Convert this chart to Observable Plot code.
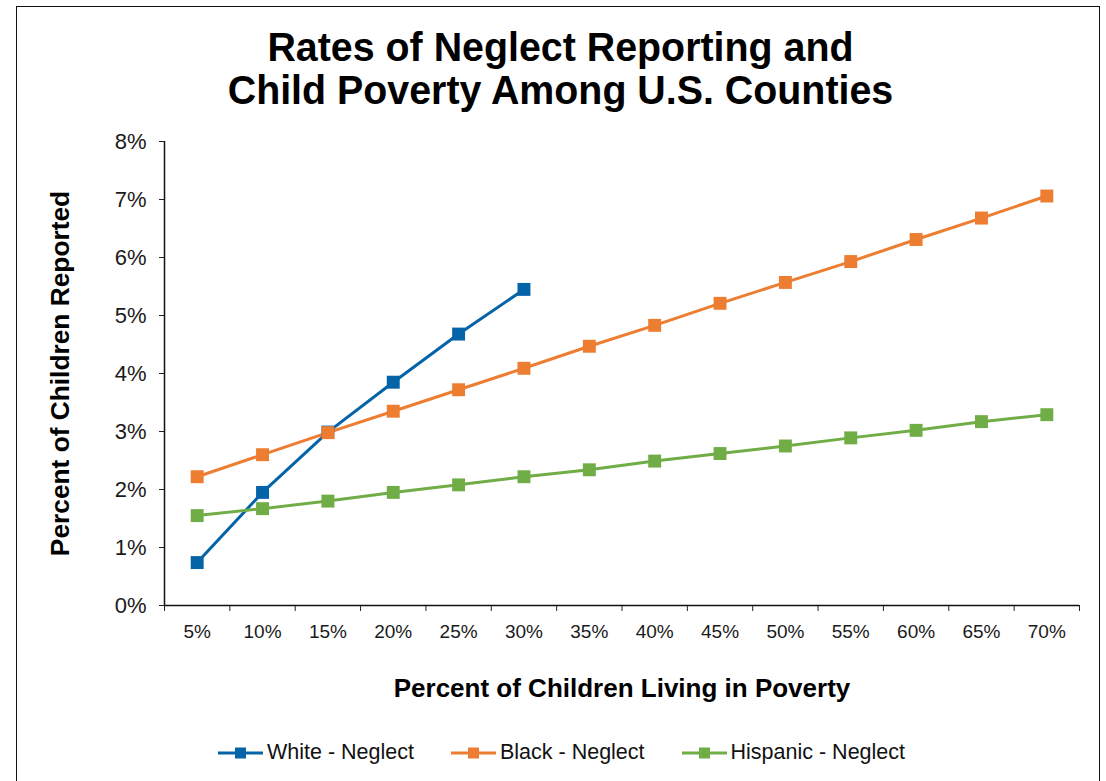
<!DOCTYPE html>
<html>
<head>
<meta charset="utf-8">
<script src="https://cdn.jsdelivr.net/npm/d3@7"></script>
<script src="https://cdn.jsdelivr.net/npm/@observablehq/plot@0.6"></script>
<style>
  html, body { margin: 0; padding: 0; background: #fff; overflow: hidden; }
  #page { position: relative; width: 1106px; height: 781px; overflow: hidden; font-family: "Liberation Sans", Arial, sans-serif; color: #1a1a1a; }
  #border { position: absolute; left: 16px; top: 6px; width: 1084px; height: 800px; border: 1.5px solid #111; box-sizing: border-box; }
  #title { position: absolute; left: 0; width: 1121px; top: 26px; text-align: center; font-family: "Liberation Sans Narrow", "Arial Narrow", "Liberation Sans", Arial, sans-serif; font-weight: bold; font-size: 41px; line-height: 43px; color: #000; transform: scaleX(0.96); transform-origin: 560px 0; }
  #chart { position: absolute; left: 0; top: 110px; }
  #legend { position: absolute; left: 218px; top: 740px; display: flex; align-items: center; font-size: 21.5px; color: #111; }
  .item { display: flex; align-items: center; margin-right: 37px; }
  .item svg { margin-right: 4px; }
</style>
</head>
<body>
<div id="page">
  <div id="border"></div>
  <div id="title">Rates of Neglect Reporting and<br>Child Poverty Among U.S. Counties</div>
  <div id="chart"></div>
  <div id="legend"></div>
</div>
<script>
// ---- data ----
const povertyLevels = [5, 10, 15, 20, 25, 30, 35, 40, 45, 50, 55, 60, 65, 70];
const xTickLabels = ["5%", "10%", "15%", "20%", "25%", "30%", "35%", "40%", "45%", "50%", "55%", "60%", "65%", "70%"];
const whiteNeglect = [0.74, 1.95, 2.99, 3.85, 4.68, 5.45];
const blackNeglect = [2.22, 2.60, 2.98, 3.35, 3.72, 4.09, 4.47, 4.83, 5.21, 5.57, 5.93, 6.31, 6.68, 7.06];
const hispanicNeglect = [1.55, 1.67, 1.80, 1.95, 2.08, 2.22, 2.34, 2.49, 2.62, 2.75, 2.89, 3.02, 3.17, 3.29];
const seriesNames = ["White - Neglect", "Black - Neglect", "Hispanic - Neglect"];
const seriesColors = ["#0563A8", "#ED7D31", "#70AD47"];
const yTickValues = [0, 1, 2, 3, 4, 5, 6, 7, 8];
const yTitle = "Percent of Children Reported";
const xTitle = "Percent of Children Living in Poverty";

// ---- table built from the arrays ----
const seriesValues = [whiteNeglect, blackNeglect, hispanicNeglect];
const rows = [];
seriesValues.forEach((vals, s) => {
  vals.forEach((v, i) => rows.push({series: seriesNames[s], poverty: povertyLevels[i], rate: v}));
});
const step = povertyLevels[1] - povertyLevels[0];
const boundaries = [...povertyLevels.map(p => p - step / 2), povertyLevels[povertyLevels.length - 1] + step / 2];

const chart = Plot.plot({
  width: 1106,
  height: 610,
  marginLeft: 164,
  marginRight: 27,
  marginTop: 31,
  marginBottom: 115,
  style: {fontFamily: '"Liberation Sans", Arial, sans-serif', fontSize: "20px", color: "#1a1a1a", background: "transparent", overflow: "visible"},
  x: {type: "linear", domain: [boundaries[0], boundaries[boundaries.length - 1]]},
  y: {domain: [0, 8]},
  color: {domain: seriesNames, range: seriesColors},
  marks: [
    Plot.axisY({ticks: yTickValues, tickFormat: d => d + "%", tickSize: 5, tickPadding: 13, label: null, fontSize: 22, stroke: "#222"}),
    Plot.axisX({ticks: boundaries, tickFormat: () => "", tickSize: 6, label: null, stroke: "#222"}),
    Plot.axisX({ticks: povertyLevels, tickFormat: (d, i) => xTickLabels[povertyLevels.indexOf(d)], tickSize: 0, tickPadding: 19, label: null, fontSize: 19}),
    Plot.ruleX([boundaries[0]], {stroke: "#111", strokeWidth: 1.5}),
    Plot.ruleY([0], {stroke: "#111", strokeWidth: 1.5}),
    Plot.line(rows, {x: "poverty", y: "rate", z: "series", stroke: "series", strokeWidth: 3}),
    Plot.dot(rows, {x: "poverty", y: "rate", fill: "series", symbol: "square", r: 7.3}),
    Plot.text([yTitle], {frameAnchor: "left", textAnchor: "middle", rotate: -90, dx: -104, fontWeight: "bold", fontSize: 26.3, fill: "#000"}),
    Plot.text([xTitle], {frameAnchor: "bottom", dy: 91, fontWeight: "bold", fontSize: 26, fill: "#000"})
  ]
});
document.getElementById("chart").appendChild(chart);

// ---- legend ----
const legend = document.getElementById("legend");
seriesNames.forEach((name, i) => {
  const item = document.createElement("div");
  item.className = "item";
  item.innerHTML = `<svg width="45" height="14"><line x1="0" x2="45" y1="7" y2="7" stroke="${seriesColors[i]}" stroke-width="3"/><rect x="17" y="1.5" width="11" height="11" fill="${seriesColors[i]}"/></svg><span>${name}</span>`;
  legend.appendChild(item);
});
</script>
</body>
</html>
